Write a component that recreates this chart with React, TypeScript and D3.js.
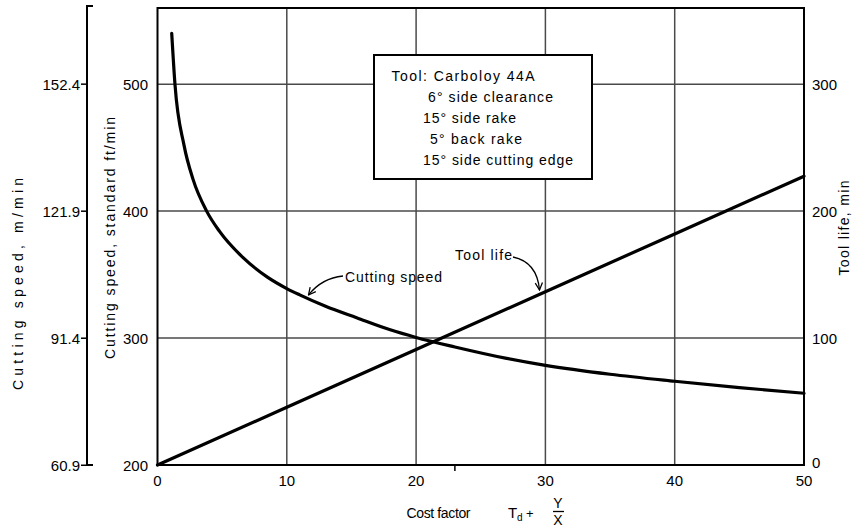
import React from "react";
import * as d3 from "d3";

// ---- data ----
const xTicks = [0, 10, 20, 30, 40, 50];
const extraXTicks = [23];
const ftTicks = [200, 300, 400, 500];
const toolTicks = [0, 100, 200, 300];
const mTicks = [60.9, 91.4, 121.9, 152.4];

const costFactor = [1.1, 1.35, 2.05, 2.75, 3.8, 4.8, 6.6, 8.5, 10, 11, 13, 15.4, 18, 20, 23, 27, 30, 35, 40, 45, 50];
const cuttingSpeed = [540, 500, 452, 425, 400, 384, 363.5, 348, 339, 334, 325, 316, 306.5, 300.5, 293, 284, 278.5, 271.5, 266, 261, 256.5];

const toolLifeX = [0, 10, 20, 30, 40, 50];
const toolLife = [0, 45.5, 91, 136.5, 182, 227.5];

const legendLines = [
  "Tool: Carboloy 44A",
  "6° side clearance",
  "15° side rake",
  "5° back rake",
  "15° side cutting edge",
];

const FONT = "'Liberation Sans', Arial, sans-serif";

export default function App() {
  const W = 866, H = 531;
  const left = 157.5, right = 804, top = 8, bottom = 465;
  const x = d3.scaleLinear().domain([0, 50]).range([left, right]);
  const yFt = d3.scaleLinear().domain([200, 560]).range([bottom, top]);
  const yTool = d3.scaleLinear().domain([0, 360]).range([bottom, top]);
  const yM = d3.scaleLinear().domain([200 * 0.3048, 560 * 0.3048]).range([bottom, top]);

  const speedLine = d3
    .line<number>()
    .x((_, i) => x(costFactor[i]))
    .y((d) => yFt(d))
    .curve(d3.curveMonotoneX)(cuttingSpeed) as string;

  const toolLine = d3
    .line<number>()
    .x((_, i) => x(toolLifeX[i]))
    .y((d) => yTool(d))(toolLife) as string;

  const legendX = [391.5, 428, 423, 430, 423];
  const legendLen = [143, 125, 93, 92, 150];
  const grid = "#4a4a4a";

  return (
    <svg
      width={W}
      height={H}
      viewBox={`0 0 ${W} ${H}`}
      style={{ position: "absolute", left: 0, top: 0, background: "#fff" }}
      fontFamily={FONT}
    >
      <defs>
        <marker id="arr" viewBox="0 0 10 10" refX="9" refY="5" markerWidth="9" markerHeight="9" markerUnits="userSpaceOnUse" orient="auto">
          <path d="M1,1 L9,5 L1,9" fill="none" stroke="#000" strokeWidth="1.4" />
        </marker>
      </defs>
      <rect x={0} y={0} width={W} height={H} fill="#fff" />

      {/* gridlines */}
      {ftTicks.filter((t) => t > 200).map((t) => (
        <line key={"h" + t} x1={left} x2={right} y1={yFt(t)} y2={yFt(t)} stroke={grid} strokeWidth={1.5} />
      ))}
      {xTicks.filter((t) => t > 0 && t < 50).map((t) => (
        <line key={"v" + t} x1={x(t)} x2={x(t)} y1={top} y2={bottom} stroke={grid} strokeWidth={1.5} />
      ))}

      {/* frame */}
      <rect x={left} y={top} width={right - left} height={bottom - top} fill="none" stroke="#000" strokeWidth={2} />
      {extraXTicks.map((t) => (
        <line key={"m" + t} x1={x(t)} x2={x(t)} y1={bottom} y2={bottom + 6} stroke="#000" strokeWidth={1.5} />
      ))}

      {/* legend box */}
      <rect x={374} y={55} width={218} height={124} fill="#fff" stroke="#000" strokeWidth={2} />
      {legendLines.map((s, i) => (
        <text key={s} x={legendX[i]} y={81 + i * 21} fontSize={14} textLength={legendLen[i]} lengthAdjust="spacing">
          {s}
        </text>
      ))}

      {/* curves */}
      <path d={speedLine} fill="none" stroke="#000" strokeWidth={3.2} strokeLinecap="round" />
      <path d={toolLine} fill="none" stroke="#000" strokeWidth={3.2} strokeLinecap="round" />

      {/* annotations */}
      <text x={345} y={281.5} fontSize={14} textLength={97} lengthAdjust="spacing">Cutting speed</text>
      <path d="M343,276 Q322,278 308.5,295" fill="none" stroke="#000" strokeWidth={1.3} markerEnd="url(#arr)" />
      <text x={455} y={260} fontSize={14} textLength={57} lengthAdjust="spacing">Tool life</text>
      <path d="M513,257 Q537,262 539.5,290" fill="none" stroke="#000" strokeWidth={1.3} markerEnd="url(#arr)" />

      {/* x tick labels */}
      {xTicks.map((t) => (
        <text key={"xt" + t} x={x(t)} y={485.5} fontSize={15} textAnchor="middle">{t}</text>
      ))}

      {/* left ft/min tick labels */}
      {ftTicks.map((t) => (
        <text key={"ft" + t} x={148} y={yFt(t) + 5.5} fontSize={15} textAnchor="end">{t}</text>
      ))}

      {/* right tool-life tick labels */}
      {toolTicks.map((t) => (
        <text key={"tl" + t} x={812} y={yTool(t) + (t === 0 ? 3 : 5.5)} fontSize={15}>{t}</text>
      ))}

      {/* m/min bracket axis */}
      <line x1={87} x2={87} y1={6} y2={bottom} stroke="#000" strokeWidth={2} />
      <line x1={86} x2={93} y1={6} y2={6} stroke="#000" strokeWidth={2} />
      <line x1={86} x2={93} y1={bottom} y2={bottom} stroke="#000" strokeWidth={2} />
      {mTicks.map((t) => (
        <g key={"m" + t}>
          <line x1={81} x2={87} y1={yM(t)} y2={yM(t)} stroke="#000" strokeWidth={1.5} />
          <text x={80} y={yM(t) + 5.5} fontSize={15} textAnchor="end">{t.toFixed(1)}</text>
        </g>
      ))}

      {/* axis titles */}
      <text transform="translate(23,284) rotate(-90)" fontSize={14} textAnchor="middle" textLength={212} lengthAdjust="spacing">
        Cutting speed,  m/min
      </text>
      <text transform="translate(115,238) rotate(-90)" fontSize={14} textAnchor="middle" textLength={242} lengthAdjust="spacing">
        Cutting speed, standard ft/min
      </text>
      <text transform="translate(849,228) rotate(-90)" fontSize={14} textAnchor="middle" textLength={95} lengthAdjust="spacing">
        Tool life,  min
      </text>

      {/* x axis title */}
      <text x={406.5} y={518} fontSize={14} textLength={64} lengthAdjust="spacing">Cost factor</text>
      <text x={508} y={518} fontSize={15}>T</text>
      <text x={517} y={521} fontSize={10}>d</text>
      <text x={526} y={518} fontSize={13}>+</text>
      <text x={558} y={508} fontSize={14} textAnchor="middle">Y</text>
      <line x1={553} x2={564} y1={511.5} y2={511.5} stroke="#000" strokeWidth={1.3} />
      <text x={558} y={525} fontSize={14} textAnchor="middle">X</text>
    </svg>
  );
}
